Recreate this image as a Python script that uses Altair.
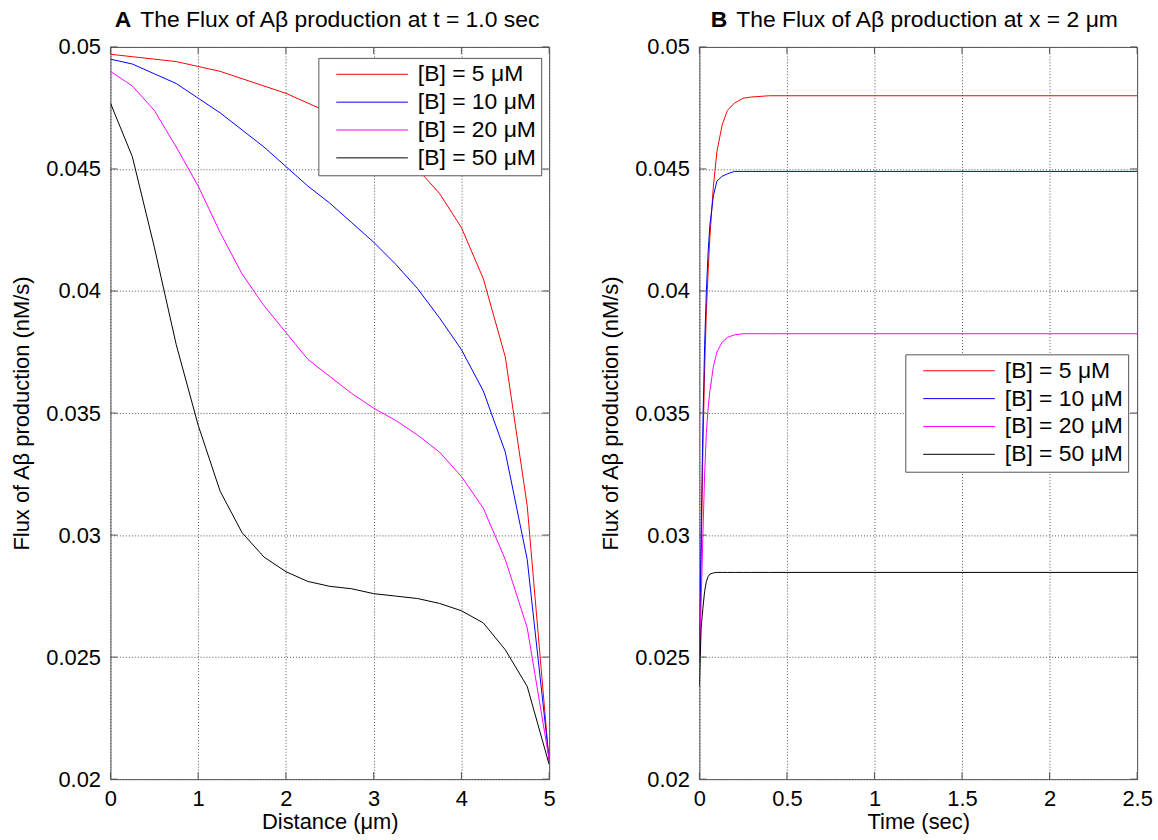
import altair as alt
import pandas as pd

FONT = "Liberation Sans"
FRAME = "#555555"
TICK = 7
W_A, W_B, H = 441, 440, 736

SERIES = ["[B] = 5 μM", "[B] = 10 μM", "[B] = 20 μM", "[B] = 50 μM"]
COLORS = ["#ff0000", "#0000ff", "#ff00ff", "#000000"]

# Panel A: flux of Aβ production along the distance axis at t = 1.0 sec
distance = [0, 0.25, 0.5, 0.75, 1, 1.25, 1.5, 1.75, 2, 2.25, 2.5,
            2.75, 3, 3.25, 3.5, 3.75, 4, 4.25, 4.5, 4.75, 5]
flux_d_5 = [0.0497, 0.0496, 0.0495, 0.0494, 0.0492, 0.0490, 0.0487, 0.0484, 0.0481, 0.0477, 0.0473,
            0.0469, 0.0464, 0.0458, 0.0450, 0.0440, 0.0426, 0.0405, 0.0373, 0.0312, 0.0207]
flux_d_10 = [0.0495, 0.0493, 0.0489, 0.0485, 0.0479, 0.0473, 0.0466, 0.0459, 0.0451, 0.0443, 0.0436,
             0.0428, 0.0420, 0.0411, 0.0401, 0.0389, 0.0376, 0.0359, 0.0334, 0.0290, 0.0208]
flux_d_20 = [0.0490, 0.0484, 0.0474, 0.0459, 0.0443, 0.0424, 0.0407, 0.0394, 0.0383, 0.0372, 0.0365,
             0.0358, 0.0352, 0.0347, 0.0341, 0.0334, 0.0324, 0.0311, 0.0290, 0.0262, 0.0208]
flux_d_50 = [0.0477, 0.0455, 0.0418, 0.0378, 0.0345, 0.0318, 0.0301, 0.0291, 0.0285, 0.0281, 0.0279,
             0.0278, 0.0276, 0.0275, 0.0274, 0.0272, 0.0269, 0.0264, 0.0253, 0.0238, 0.0206]

# Panel B: flux of Aβ production over time at x = 2 μm
time = [0, 0.01, 0.02, 0.03, 0.04, 0.05, 0.06, 0.08, 0.1, 0.13,
        0.16, 0.2, 0.25, 0.3, 0.4, 0.5, 1.0, 1.5, 2.0, 2.5]
flux_t_5 = [0.0248, 0.0290, 0.0335, 0.0368, 0.0392, 0.0408, 0.0422, 0.0443, 0.0457, 0.0468,
            0.0474, 0.0477, 0.0479, 0.04795, 0.0480, 0.0480, 0.0480, 0.0480, 0.0480, 0.0480]
flux_t_10 = [0.0248, 0.0300, 0.0345, 0.0378, 0.0400, 0.0416, 0.0427, 0.0439, 0.0445, 0.0447,
             0.0448, 0.0449, 0.0449, 0.0449, 0.0449, 0.0449, 0.0449, 0.0449, 0.0449, 0.0449]
flux_t_20 = [0.0248, 0.0272, 0.0300, 0.0325, 0.0342, 0.0352, 0.0359, 0.0369, 0.0375, 0.0379,
             0.0381, 0.0382, 0.03825, 0.03825, 0.03825, 0.03825, 0.03825, 0.03825, 0.03825, 0.03825]
flux_t_50 = [0.0238, 0.0262, 0.0270, 0.0277, 0.0281, 0.0283, 0.0284, 0.02845, 0.02847, 0.02847,
             0.02847, 0.02847, 0.02847, 0.02847, 0.02847, 0.02847, 0.02847, 0.02847, 0.02847, 0.02847]

FLUX_TICKS = [0.02, 0.025, 0.03, 0.035, 0.04, 0.045, 0.05]
DIST_TICKS = [0, 1, 2, 3, 4, 5]
TIME_TICKS = [0, 0.5, 1, 1.5, 2, 2.5]
FLUX_TITLE = "Flux of Aβ production (nM/s)"


def long_table(xname, xs, columns):
    rows = []
    for name, ys in zip(SERIES, columns):
        for x, y in zip(xs, ys):
            rows.append({xname: x, "flux": y, "series": name})
    return pd.DataFrame(rows)


dist_df = long_table("distance", distance, [flux_d_5, flux_d_10, flux_d_20, flux_d_50])
time_df = long_table("time", time, [flux_t_5, flux_t_10, flux_t_20, flux_t_50])


def panel(df, xfield, xtitle, xdomain, xticks, width, letter, heading,
          letter_x, legend_x, legend_y):
    xscale = alt.Scale(domain=xdomain, nice=False, zero=False)
    yscale = alt.Scale(domain=[0.02, 0.05], nice=False, zero=False)
    xaxis = alt.Axis(values=xticks, format="~g", title=xtitle, labelFlush=False)
    yaxis = alt.Axis(values=FLUX_TICKS, format="~g", title=FLUX_TITLE, labelFlush=False)
    xenc = alt.X(f"{xfield}:Q", scale=xscale, axis=xaxis)
    yenc = alt.Y("flux:Q", scale=yscale, axis=yaxis)

    legend = alt.Legend(
        title=None, orient="none", legendX=legend_x, legendY=legend_y,
        strokeColor=FRAME, fillColor="white", padding=5, cornerRadius=0,
        symbolType="M0.3,0H14.7", symbolSize=100, symbolStrokeWidth=1,
        labelFont=FONT, labelFontSize=23, labelColor="black",
        labelOffset=72, rowPadding=4, labelLimit=0,
    )

    lines = alt.Chart(df).mark_line(strokeWidth=1, clip=True).encode(
        x=xenc, y=yenc,
        color=alt.Color("series:N", scale=alt.Scale(domain=SERIES, range=COLORS),
                        legend=legend),
    )

    xt = pd.DataFrame({xfield: xticks})
    yt = pd.DataFrame({"flux": FLUX_TICKS})

    # inward tick marks on all four sides of the box
    tick_top = alt.Chart(xt).mark_rule(color=FRAME).encode(
        x=xenc, y=alt.value(0), y2=alt.value(TICK))
    tick_bottom = alt.Chart(xt).mark_rule(color=FRAME).encode(
        x=xenc, y=alt.value(H - TICK), y2=alt.value(H))
    tick_left = alt.Chart(yt).mark_rule(color=FRAME).encode(
        y=yenc, x=alt.value(0), x2=alt.value(TICK))
    tick_right = alt.Chart(yt).mark_rule(color=FRAME).encode(
        y=yenc, x=alt.value(width - TICK), x2=alt.value(width))

    one = pd.DataFrame({"k": [0]})
    head_letter = alt.Chart(one).mark_text(
        align="right", baseline="middle", font=FONT, fontSize=23,
        fontWeight="bold", color="black",
    ).encode(x=alt.value(letter_x), y=alt.value(-27), text=alt.value(letter))
    head_text = alt.Chart(one).mark_text(
        align="left", baseline="middle", font=FONT, fontSize=23, color="black",
    ).encode(x=alt.value(letter_x + 9), y=alt.value(-27), text=alt.value(heading))

    return alt.layer(
        lines, tick_top, tick_bottom, tick_left, tick_right, head_letter, head_text
    ).properties(width=width, height=H)


panel_a = panel(dist_df, "distance", "Distance (μm)", [0, 5], DIST_TICKS, W_A,
                "A", "The Flux of Aβ production at t = 1.0 sec", 21, 209, 11)
panel_b = panel(time_df, "time", "Time (sec)", [0, 2.5], TIME_TICKS, W_B,
                "B", "The Flux of Aβ production at x = 2 μm", 28, 207, 309)

chart = alt.hconcat(panel_a, panel_b, spacing=43).resolve_scale(
    color="independent"
).resolve_legend(
    color="independent"
).properties(
    padding={"left": 10, "top": 6, "right": 5, "bottom": 5},
    background="white",
).configure_view(
    stroke=FRAME, strokeWidth=1,
).configure_axis(
    grid=True, gridColor="#555555", gridDash=[1, 2], gridWidth=1,
    ticks=False, domain=False,
    labelFont=FONT, labelFontSize=22, labelColor="black",
    titleFont=FONT, titleFontSize=22, titleFontWeight="normal", titleColor="black",
).configure_axisY(
    labelPadding=10, titlePadding=12,
).configure_axisX(
    labelPadding=9, titlePadding=3,
)

chart.save("out.html", embed_options={"renderer": "svg", "actions": False})
